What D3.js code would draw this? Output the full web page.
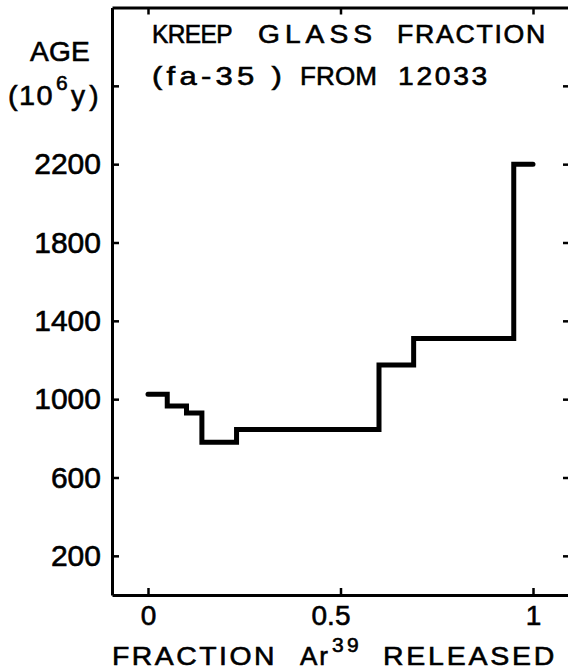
<!DOCTYPE html>
<html>
<head>
<meta charset="utf-8">
<script src="https://cdn.jsdelivr.net/npm/d3@7"></script>
<style>
  html, body { margin: 0; padding: 0; background: #fff; }
  svg { display: block; }
  text { font-family: "Liberation Sans", Arial, Helvetica, sans-serif; fill: #000; stroke: #000; stroke-width: 0.6px; }
</style>
</head>
<body>
<script>
// ---- data ----
const stepStarts = [0, 0.05, 0.10, 0.14, 0.23, 0.60, 0.69, 0.95];
const stepEnd = 1.0;
const ages = [1025, 965, 930, 780, 845, 1175, 1310, 2200];
const yTicks = [200, 600, 1000, 1400, 1800, 2200, 2600];
const yTickLabels = ["200", "600", "1000", "1400", "1800", "2200", ""];
const xTicks = [0, 0.5, 1];
const xTickLabels = ["0", "0.5", "1"];
const titleLine1 = ["KREEP", "GLASS", "FRACTION"];
const titleLine2 = ["(fa-35 )", "FROM", "12033"];

const W = 568, H = 671;
const svg = d3.select("body").append("svg").attr("width", W).attr("height", H);

const x = d3.scaleLinear().domain([-0.0935, 1.1]).range([112, 571.5]);
const y = d3.scaleLinear().domain([0, 3000]).range([595, 7.5]);

function styleAxis(g) {
  g.select(".domain").attr("stroke", "#000").attr("stroke-width", 3);
  g.selectAll(".tick line").attr("stroke", "#000").attr("stroke-width", 2.5);
  g.selectAll(".tick text").style("font-size", "30px").attr("fill", "#000");
}

function fit(t, target) {
  const node = t.node();
  const w0 = node.getComputedTextLength();
  const n = t.text().length;
  const ls = (target - w0) / 2 / Math.max(n - 1, 1);
  t.style("letter-spacing", ls + "px");
  t.attr("textLength", target).attr("lengthAdjust", "spacingAndGlyphs");
  return t;
}
function label(txt, xx, yy, size, target) {
  const t = svg.append("text").attr("x", xx).attr("y", yy).style("font-size", size + "px").text(txt);
  if (target) fit(t, target);
  return t;
}

const gl = svg.append("g").attr("transform", "translate(112,0)")
  .call(d3.axisLeft(y).tickValues(yTicks).tickSize(-7).tickSizeOuter(0).tickPadding(11)
    .tickFormat((d, i) => yTickLabels[i]));
styleAxis(gl);

const gb = svg.append("g").attr("transform", "translate(0,595)")
  .call(d3.axisBottom(x).tickValues(xTicks).tickSize(-7).tickSizeOuter(0).tickPadding(10)
    .tickFormat((d, i) => xTickLabels[i]));
styleAxis(gb);
gb.selectAll(".tick text").style("font-size", "28px").attr("dx", (d) => d === 0.5 ? -10 : 0);

const gt = svg.append("g").attr("transform", "translate(0,7.5)")
  .call(d3.axisTop(x).tickValues(xTicks).tickSize(-7).tickSizeOuter(0).tickFormat(""));
styleAxis(gt);

const gr = svg.append("g").attr("transform", "translate(570,0)")
  .call(d3.axisRight(y).tickValues(yTicks).tickSize(-7).tickSizeOuter(0).tickFormat(""));
styleAxis(gr);

const pts = stepStarts.map((f, i) => ({ f: f, age: ages[i] }));
pts.push({ f: stepEnd, age: ages[ages.length - 1] });
const line = d3.line().x(d => x(d.f)).y(d => y(d.age)).curve(d3.curveStepAfter);
svg.append("path").datum(pts)
  .attr("d", line)
  .attr("fill", "none")
  .attr("stroke", "#000")
  .attr("stroke-width", 5)
  .attr("stroke-linejoin", "miter")
  .attr("stroke-linecap", "round");

const t1x = [152, 258, 397], t1w = [80, 119, 150];
titleLine1.forEach((w, i) => label(w, t1x[i], 43, 25, t1w[i]));
const t2x = [152, 300, 398], t2w = [134, 77, 92];
titleLine2.forEach((w, i) => label(w, t2x[i], 85, 26, t2w[i]));

label("AGE", 30, 61, 28, 60);
label("(10", 8, 105, 28, 46);
label("6", 56, 90, 21);
label("y)", 71, 105, 28, 32);

label("FRACTION", 112, 665, 26, 165);
label("Ar", 300, 665, 26, 30);
label("39", 332, 652, 21, 30);
label("RELEASED", 383, 665, 26, 174);
</script>
</body>
</html>
